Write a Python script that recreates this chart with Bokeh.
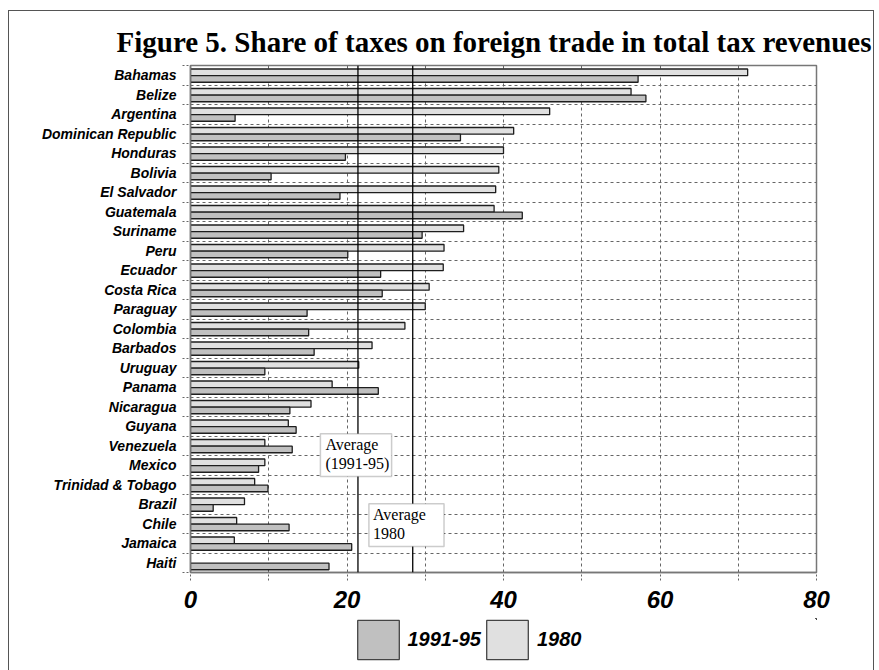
import math
from bokeh.plotting import figure
from bokeh.layouts import column
from bokeh.models import (ColumnDataSource, FixedTicker, Span, BoxAnnotation, Label,
                          Legend, LegendItem, Title)
from bokeh.embed import file_html
from bokeh.resources import INLINE

# ---------------- data ----------------
countries = ["Bahamas", "Belize", "Argentina", "Dominican Republic", "Honduras", "Bolivia",
             "El Salvador", "Guatemala", "Suriname", "Peru", "Ecuador", "Costa Rica",
             "Paraguay", "Colombia", "Barbados", "Uruguay", "Panama", "Nicaragua", "Guyana",
             "Venezuela", "Mexico", "Trinidad & Tobago", "Brazil", "Chile", "Jamaica", "Haiti"]
share_1980 = [71.2, 56.3, 45.9, 41.3, 40.0, 39.4, 39.0, 38.8, 34.9, 32.4, 32.3, 30.5,
              30.0, 27.4, 23.2, 21.5, 18.1, 15.4, 12.5, 9.5, 9.5, 8.2, 6.9, 5.9, 5.6, float("nan")]
share_1991_95 = [57.2, 58.2, 5.7, 34.5, 19.8, 10.3, 19.1, 42.4, 29.6, 20.1, 24.3, 24.5,
                 14.9, 15.1, 15.8, 9.5, 24.0, 12.7, 13.5, 13.0, 8.7, 9.9, 2.9, 12.6, 20.6, 17.7]
average_1991_95 = 21.4
average_1980 = 28.4
x_ticks = [0, 10, 20, 30, 40, 50, 60, 70, 80]
x_tick_labels = ["0", "", "20", "", "40", "", "60", "", "80"]
series_labels = ["1991-95", "1980"]
title_text = "Figure 5. Share of taxes on foreign trade in total tax revenues"

# styles
C1980 = "#e0e0e0"
C9195 = "#c0c0c0"
EDGE = "#1e1e1e"

# ---------------- layout helpers ----------------
n = len(countries)
centers = [n - i - 0.5 for i in range(n)]
boundaries = [float(k) for k in range(n + 1)]

src = ColumnDataSource(dict(
    country=countries,
    y80=[c + 0.15 for c in centers],
    y95=[c - 0.19 for c in centers],
    v1980=share_1980,
    v9195=share_1991_95,
))

p = figure(width=864, height=607, x_range=(0, 80), y_range=(0, n),
           output_backend="svg", toolbar_location=None,
           min_border_left=181, min_border_right=57, min_border_top=54, min_border_bottom=46,
           background_fill_color="white", border_fill_color="white")

p.title = Title(text=title_text, align="left", offset=-74, standoff=15,
                text_font="Liberation Serif", text_font_size="29px",
                text_font_style="bold", text_color="black")

p.outline_line_color = "#777777"
p.outline_line_width = 1.5

# grids
p.xgrid.grid_line_color = "#666666"
p.xgrid.grid_line_dash = "3 3"
p.xgrid.grid_line_width = 1
p.ygrid.ticker = FixedTicker(ticks=boundaries)
p.ygrid.grid_line_color = "#666666"
p.ygrid.grid_line_dash = "3 3"
p.ygrid.grid_line_width = 1

# x axis
xa = p.xaxis[0]
xa.ticker = FixedTicker(ticks=x_ticks)
xa.major_label_overrides = {t: l for t, l in zip(x_ticks, x_tick_labels)}
xa.major_label_text_font = "Liberation Sans"
xa.major_label_text_font_style = "bold italic"
xa.major_label_text_font_size = "24px"
xa.major_label_text_color = "black"
xa.major_label_standoff = 10
xa.major_tick_in = 0
xa.major_tick_out = 8
xa.major_tick_line_dash = "2 2"
xa.major_tick_line_color = "#666666"
xa.minor_tick_line_color = None
xa.axis_line_color = "#777777"
xa.axis_line_width = 1.5

# y axis
ya = p.yaxis[0]
ya.ticker = FixedTicker(ticks=centers, minor_ticks=boundaries)
ya.major_label_overrides = {c: name for c, name in zip(centers, countries)}
ya.major_label_text_font = "Liberation Sans"
ya.major_label_text_font_style = "bold italic"
ya.major_label_text_font_size = "14px"
ya.major_label_text_color = "black"
ya.major_label_standoff = 6
ya.major_tick_line_color = None
ya.major_tick_in = 0
ya.major_tick_out = 0
ya.minor_tick_in = 0
ya.minor_tick_out = 8
ya.minor_tick_line_dash = "2 2"
ya.minor_tick_line_color = "#666666"
ya.axis_line_color = "#777777"
ya.axis_line_width = 1.5

# bars
r80 = p.hbar(y="y80", left=0, right="v1980", height=0.34, source=src,
             fill_color=C1980, line_color=EDGE, line_width=1.3)
r95 = p.hbar(y="y95", left=0, right="v9195", height=0.34, source=src,
             fill_color=C9195, line_color=EDGE, line_width=1.3)

# average lines
p.add_layout(Span(location=average_1991_95, dimension="height", line_color="black", line_width=1.3))
p.add_layout(Span(location=average_1980, dimension="height", line_color="black", line_width=1.3))

# annotation boxes
p.add_layout(BoxAnnotation(left=16.6, right=25.7, top=7.11, bottom=4.92,
                           fill_color="white", fill_alpha=1.0,
                           line_color="#555555", line_width=1.5))
p.add_layout(BoxAnnotation(left=22.8, right=32.4, top=3.52, bottom=1.33,
                           fill_color="white", fill_alpha=1.0,
                           line_color="#555555", line_width=1.5))
p.add_layout(Label(x=16.6, y=7.11, x_offset=5, y_offset=-2, text="Average\n(1991-95)",
                   text_font="Liberation Serif", text_font_size="16px",
                   text_baseline="top", text_align="left", text_line_height=1.12,
                   text_color="black"))
p.add_layout(Label(x=22.8, y=3.52, x_offset=4, y_offset=-2, text="Average\n1980",
                   text_font="Liberation Serif", text_font_size="16px",
                   text_baseline="top", text_align="left", text_line_height=1.12,
                   text_color="black"))

# ---------------- legend strip below the chart ----------------
# (same bar series, drawn entirely outside the view, so the legend keys carry the styles)
leg = figure(width=864, height=54, x_range=(-300, -220), y_range=(-60, -59),
             x_axis_type=None, y_axis_type=None,
             output_backend="svg", toolbar_location=None,
             min_border=0, outline_line_color=None,
             background_fill_color="white", border_fill_color="white")
leg.grid.visible = False
k95 = leg.hbar(y="y95", right="v9195", left=0, height=0.34, source=src,
               fill_color=C9195, line_color="#444444", line_width=1.3)
k80 = leg.hbar(y="y80", right="v1980", left=0, height=0.34, source=src,
               fill_color=C1980, line_color="#444444", line_width=1.3)
legend = Legend(items=[LegendItem(label=series_labels[0], renderers=[k95]),
                       LegendItem(label=series_labels[1], renderers=[k80])],
                orientation="horizontal", location=(161.5, 8),
                glyph_width=52, glyph_height=49, label_standoff=4, spacing=0,
                padding=0, margin=0, border_line_alpha=0, background_fill_alpha=0,
                label_text_font="Liberation Sans", label_text_font_style="bold italic",
                label_text_font_size="20px", label_text_color="black")
leg.add_layout(legend, "center")

layout = column(p, leg, spacing=0,
                styles={"margin-left": "8px", "margin-top": "10px",
                        "border": "1.5px solid #555"})

open("out.html", "w").write(file_html(layout, INLINE))
